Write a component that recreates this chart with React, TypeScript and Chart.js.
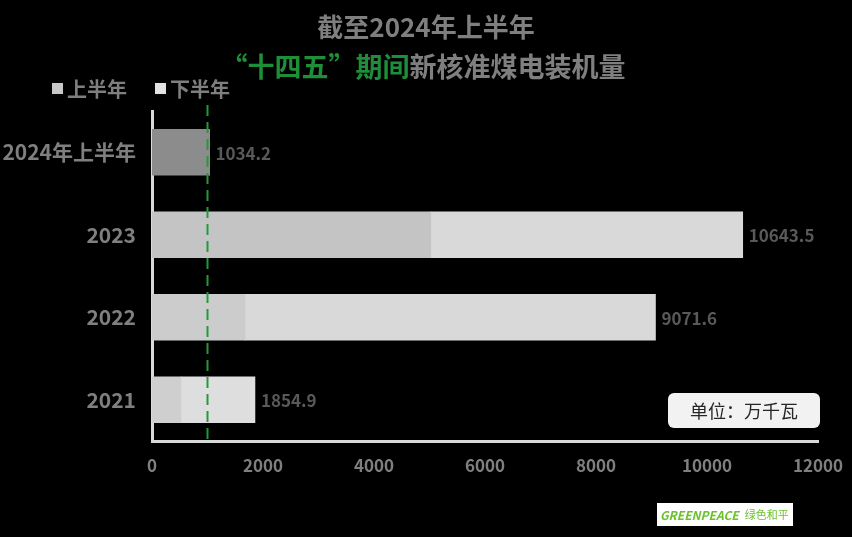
import React, { useEffect, useRef } from "react";
import { Chart, registerables } from "chart.js";

Chart.register(...registerables);

const categories = ["2024年上半年", "2023", "2022", "2021"];
const firstHalf = [1034.2, 5024, 1675, 522];
const secondHalf = [0, 5619.5, 7396.6, 1332.9];
const totals = [1034.2, 10643.5, 9071.6, 1854.9];
const firstHalfColors = ["#8c8c8c", "#c4c4c4", "#cccccc", "#cfcfcf"];
const secondHalfColors = ["#d9d9d9", "#d9d9d9", "#d9d9d9", "#dedede"];
const xMin = 0;
const xMax = 12000;
const xStep = 2000;
const referenceLine = 1000;
const titleLine1 = "截至2024年上半年";
const titleGreen = "“十四五”期间";
const titleGrey = "新核准煤电装机量";
const legendLabels = ["上半年", "下半年"];
const legendColors = ["#c8c8c8", "#e2e2e2"];
const unitText = "单位：万千瓦";
const logoText = "GREENPEACE";
const logoCn = "绿色和平";

const FONT = '"Noto Sans CJK SC", "Noto Sans", sans-serif';

const overlayPlugin = {
  id: "overlay",
  afterDatasetsDraw(chart: any) {
    const ctx = chart.ctx;
    const xs = chart.scales.x;
    const area = chart.chartArea;
    const lx = xs.getPixelForValue(referenceLine);
    ctx.save();
    ctx.strokeStyle = "#1e9b3c";
    ctx.lineWidth = 2;
    ctx.setLineDash([11, 6]);
    ctx.beginPath();
    ctx.moveTo(lx, area.top - 6);
    ctx.lineTo(lx, area.bottom);
    ctx.stroke();
    ctx.restore();
    const meta = chart.getDatasetMeta(0);
    ctx.save();
    ctx.font = "bold 17px " + FONT;
    ctx.fillStyle = "#595959";
    ctx.textAlign = "left";
    ctx.textBaseline = "middle";
    totals.forEach((t, i) => {
      const y = meta.data[i].y;
      ctx.fillText(String(t), xs.getPixelForValue(t) + 6, y + 1);
    });
    ctx.restore();
  },
  afterDraw(chart: any) {
    const ctx = chart.ctx;
    ctx.save();
    ctx.textBaseline = "middle";
    ctx.textAlign = "center";
    ctx.font = "bold 26px " + FONT;
    ctx.fillStyle = "#7f7f7f";
    ctx.fillText(titleLine1, 426, 27);
    ctx.font = "bold 27px " + FONT;
    const wg = ctx.measureText(titleGreen).width;
    const wr = ctx.measureText(titleGrey).width;
    const start = 423 - (wg + wr) / 2;
    ctx.textAlign = "left";
    ctx.fillStyle = "#1e8f38";
    ctx.fillText(titleGreen, start, 67);
    ctx.fillStyle = "#7f7f7f";
    ctx.fillText(titleGrey, start + wg, 67);
    ctx.font = "bold 20px " + FONT;
    const lxs = [52, 155];
    legendLabels.forEach((l, i) => {
      ctx.fillStyle = legendColors[i];
      ctx.fillRect(lxs[i], 83, 11, 11);
      ctx.fillStyle = "#7f7f7f";
      ctx.fillText(l, lxs[i] + 15, 89);
    });
    ctx.fillStyle = "#f2f2f2";
    ctx.beginPath();
    (ctx as any).roundRect(668, 393, 152, 35, 6);
    ctx.fill();
    ctx.fillStyle = "#262626";
    ctx.font = "18px " + FONT;
    ctx.textAlign = "center";
    ctx.fillText(unitText, 744, 411);
    ctx.fillStyle = "#ffffff";
    ctx.fillRect(657, 503, 136, 23);
    ctx.textAlign = "left";
    ctx.fillStyle = "#6cc22c";
    ctx.font = "italic bold 12px " + FONT;
    ctx.fillText(logoText, 660, 515);
    const w = ctx.measureText(logoText).width;
    ctx.font = "11px " + FONT;
    ctx.fillText(logoCn, 660 + w + 6, 515);
    ctx.restore();
  },
};

export default function App() {
  const ref = useRef<HTMLCanvasElement | null>(null);
  useEffect(() => {
    if (!ref.current) return;
    const chart = new Chart(ref.current, {
      type: "bar",
      data: {
        labels: categories,
        datasets: [
          {
            label: legendLabels[0],
            data: firstHalf,
            backgroundColor: firstHalfColors,
            barThickness: 46,
          },
          {
            label: legendLabels[1],
            data: secondHalf,
            backgroundColor: secondHalfColors,
            barThickness: 46,
          },
        ],
      },
      options: {
        indexAxis: "y",
        responsive: false,
        animation: false,
        layout: { padding: { top: 111, right: 34, left: 0, bottom: 0 } },
        plugins: {
          legend: { display: false },
          title: { display: false },
          tooltip: { enabled: false },
        },
        scales: {
          x: {
            stacked: true,
            min: xMin,
            max: xMax,
            grid: { display: false, drawTicks: false },
            border: { display: true, color: "#d9d9d9", width: 3 },
            ticks: {
              stepSize: xStep,
              padding: 14,
              color: "#7f7f7f",
              font: { family: FONT, size: 17, weight: "bold" },
              callback: (v: any) => String(v),
            },
            afterFit(scale: any) {
              scale.height = 96;
              scale.paddingRight = 0;
              scale.paddingLeft = 0;
            },
          },
          y: {
            stacked: true,
            grid: { display: false, drawTicks: false },
            border: { display: true, color: "#d9d9d9", width: 3 },
            ticks: {
              padding: 16,
              color: "#7f7f7f",
              font: { family: FONT, size: 21, weight: "bold" },
            },
            afterFit(scale: any) {
              scale.width = 152;
            },
          },
        },
      },
      plugins: [overlayPlugin],
    } as any);
    return () => chart.destroy();
  }, []);
  return (
    <div style={{ position: "fixed", left: 0, top: 0, width: 852, height: 537, background: "#000" }}>
      <canvas ref={ref} width={852} height={537} style={{ display: "block" }} />
    </div>
  );
}
